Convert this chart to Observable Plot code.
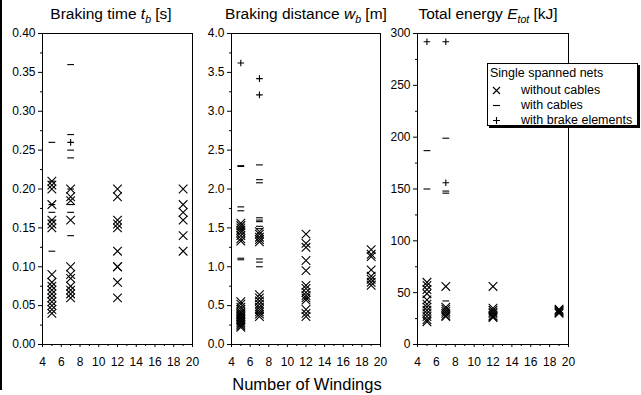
<!DOCTYPE html>
<html><head><meta charset="utf-8">
<script src="https://cdn.jsdelivr.net/npm/d3@7"></script>
<script src="https://cdn.jsdelivr.net/npm/@observablehq/plot@0.6"></script>
<style>
body{margin:0;background:#fff;}
#root{position:relative;width:641px;height:395px;overflow:hidden;font-family:"Liberation Sans",Arial,sans-serif;color:#000;background:#fff;}
.panel{position:absolute;top:0;}
.title{position:absolute;top:4px;text-align:center;font-size:15.5px;line-height:20px;white-space:nowrap;}
.title sub{font-size:10.5px;font-style:italic;vertical-align:-4px;line-height:0;}
.xlabel{position:absolute;top:374px;left:207px;width:200px;text-align:center;font-size:16.5px;line-height:20px;white-space:nowrap;}
.border{position:absolute;left:0;top:0;width:1.5px;height:390px;background:#000;}
.legend{position:absolute;left:487px;top:63px;width:149px;height:61px;border:1px solid #000;background:#fff;box-shadow:2px 2px 0 #000;font-size:12.5px;}
.legend .t{position:absolute;line-height:16px;white-space:nowrap;}
.legend svg{position:absolute;}
</style></head><body><div id="root"></div>
<script>
// ---------- data ----------
const windingTicks = [4, 6, 8, 10, 12, 14, 16, 18, 20];
const windingMinor = [5, 7, 9, 11, 13, 15, 17, 19];

// Braking time t_b [s]
const timeTicks = [0, 0.05, 0.10, 0.15, 0.20, 0.25, 0.30, 0.35, 0.40];
const timeMinor = [0.025, 0.075, 0.125, 0.175, 0.225, 0.275, 0.325, 0.375];
const timeWithoutCables = [
  [5,0.21],[5,0.205],[5,0.20],[5,0.18],[5,0.16],[5,0.155],[5,0.15],[5,0.09],[5,0.08],[5,0.075],[5,0.07],[5,0.065],[5,0.06],[5,0.055],[5,0.05],[5,0.045],[5,0.04],
  [7,0.20],[7,0.19],[7,0.185],[7,0.16],[7,0.10],[7,0.09],[7,0.085],[7,0.075],[7,0.07],[7,0.065],[7,0.06],
  [12,0.20],[12,0.19],[12,0.16],[12,0.155],[12,0.15],[12,0.12],[12,0.10],[12,0.10],[12,0.08],[12,0.06],
  [19,0.20],[19,0.18],[19,0.17],[19,0.16],[19,0.14],[19,0.12]
];
const timeWithCables = [
  [5,0.26],[5,0.21],[5,0.18],[5,0.17],[5,0.16],[5,0.12],
  [7,0.36],[7,0.27],[7,0.25],[7,0.24],[7,0.20],[7,0.18],[7,0.17],[7,0.14]
];
const timeWithBrakes = [[7,0.26]];

// Braking distance w_b [m]
const distTicks = [0, 0.5, 1.0, 1.5, 2.0, 2.5, 3.0, 3.5, 4.0];
const distMinor = [0.25, 0.75, 1.25, 1.75, 2.25, 2.75, 3.25, 3.75];
const distWithoutCables = [
  [5,1.56],[5,1.53],[5,1.50],[5,1.47],[5,1.44],[5,1.40],[5,1.36],[5,1.33],
  [5,0.55],[5,0.52],[5,0.48],[5,0.45],[5,0.42],[5,0.40],[5,0.38],[5,0.36],[5,0.34],[5,0.32],[5,0.30],[5,0.28],[5,0.26],[5,0.24],[5,0.22],
  [7,1.45],[7,1.42],[7,1.38],[7,1.35],[7,1.32],
  [7,0.64],[7,0.60],[7,0.56],[7,0.52],[7,0.48],[7,0.45],[7,0.42],[7,0.39],[7,0.36],
  [12,1.42],[12,1.30],[12,1.25],[12,1.08],[12,0.95],[12,0.76],[12,0.72],[12,0.67],[12,0.63],[12,0.60],[12,0.57],[12,0.45],[12,0.40],[12,0.36],
  [19,1.22],[19,1.16],[19,1.13],[19,0.96],[19,0.88],[19,0.84],[19,0.80],[19,0.76]
];
const distWithCables = [
  [5,2.30],[5,2.29],[5,1.77],[5,1.72],[5,1.11],[5,1.09],
  [7,2.31],[7,2.12],[7,2.08],[7,1.63],[7,1.60],[7,1.58],[7,1.52],[7,1.49],[7,1.10],[7,1.06],[7,1.00]
];
const distWithBrakes = [[5,3.62],[7,3.42],[7,3.21]];

// Total energy E_tot [kJ]
const energyTicks = [0, 50, 100, 150, 200, 250, 300];
const energyMinor = [25, 75, 125, 175, 225, 275];
const energyWithoutCables = [
  [5,60],[5,57],[5,53],[5,49],[5,43],[5,39],[5,36],[5,33],[5,30],[5,27],[5,24],[5,22],
  [7,56],[7,36],[7,34],[7,32],[7,30],[7,28],[7,27],
  [12,56],[12,35],[12,33],[12,31],[12,30],[12,28],[12,27],[12,26],
  [19,34],[19,33],[19,32],[19,31],[19,30]
];
const energyWithCables = [[5,187],[5,150],[7,199],[7,148],[7,146],[7,42]];
const energyWithBrakes = [[5,292],[7,292],[7,156]];

// ---------- symbols ----------
const symTimes = {draw(ctx, size){const r=Math.sqrt(size/Math.PI);ctx.moveTo(-r,-r);ctx.lineTo(r,r);ctx.moveTo(-r,r);ctx.lineTo(r,-r);}};
const symMinus = {draw(ctx, size){const r=Math.sqrt(size/Math.PI);ctx.moveTo(-r,0);ctx.lineTo(r,0);}};
const symPlus  = {draw(ctx, size){const r=Math.sqrt(size/Math.PI);ctx.moveTo(-r,0);ctx.lineTo(r,0);ctx.moveTo(0,-r);ctx.lineTo(0,r);}};

const root = document.getElementById("root");

function panel(o) {
  const series = [
    {data: o.without, sym: symTimes, r: 4.3},
    {data: o.cables, sym: symMinus, r: 3.4},
    {data: o.brakes, sym: symPlus, r: 3.3}
  ];
  const svg = Plot.plot({
    width: o.width, height: 372,
    marginLeft: o.mL, marginRight: o.mR, marginTop: 33, marginBottom: 28,
    x: {domain: [4, 20], label: null},
    y: {domain: o.domain, label: null},
    style: {fontFamily: '"Liberation Sans", Arial, sans-serif', fontSize: "12px", color: "#000", background: "transparent", overflow: "visible"},
    marks: [
      Plot.axisX(windingTicks, {tickSize: 3, tickPadding: 10, tickFormat: d => String(d), label: null, stroke: "#000"}),
      Plot.axisX(windingMinor, {tickSize: 2, tickFormat: () => "", label: null, stroke: "#000"}),
      Plot.axisY(o.ticks, {tickSize: 4, tickPadding: 3, tickFormat: o.fmt, label: null, stroke: "#000"}),
      Plot.axisY(o.minor, {tickSize: 2, tickFormat: () => "", label: null, stroke: "#000"}),
      ...series.map(s => Plot.dot(s.data, {x: d => d[0], y: d => d[1], symbol: s.sym, r: s.r, fill: "none", stroke: "#000", strokeWidth: 1.1})),
      Plot.frame({stroke: "#000", strokeWidth: 1})
    ]
  });
  svg.classList.add("panel");
  svg.style.left = o.left + "px";
  root.appendChild(svg);
}

panel({left: 0, width: 200, mL: 42, mR: 8, domain: [0, 0.4], ticks: timeTicks, minor: timeMinor, fmt: d3.format(".2f"),
  without: timeWithoutCables, cables: timeWithCables, brakes: timeWithBrakes});
panel({left: 200, width: 190, mL: 31, mR: 10, domain: [0, 4], ticks: distTicks, minor: distMinor, fmt: d3.format(".1f"),
  without: distWithoutCables, cables: distWithCables, brakes: distWithBrakes});
panel({left: 386, width: 200, mL: 31, mR: 18, domain: [0, 300], ticks: energyTicks, minor: energyMinor, fmt: d3.format("d"),
  without: energyWithoutCables, cables: energyWithCables, brakes: energyWithBrakes});

// ---------- text ----------
function addTitle(html, center) {
  const d = document.createElement("div");
  d.className = "title";
  d.style.left = (center - 100) + "px";
  d.style.width = "200px";
  d.innerHTML = html;
  root.appendChild(d);
}
addTitle('Braking time <i>t</i><sub>b</sub> [s]', 111);
addTitle('Braking distance <i>w</i><sub>b</sub> [m]', 306);
addTitle('Total energy <i>E</i><sub>tot</sub> [kJ]', 488);

const xl = document.createElement("div");
xl.className = "xlabel";
xl.textContent = "Number of Windings";
root.appendChild(xl);

const bd = document.createElement("div");
bd.className = "border";
root.appendChild(bd);

// ---------- legend ----------
const legendTitle = "Single spanned nets";
const legendLabels = ["without cables", "with cables", "with brake elements"];
const legendPaths = ["M1,1L8,8M1,8L8,1", "M1,4.5L8,4.5", "M1,4.5L8,4.5M4.5,1L4.5,8"];
const lg = document.createElement("div");
lg.className = "legend";
let html = `<div class="t" style="left:2px;top:1px">${legendTitle}</div>`;
legendLabels.forEach((lab, i) => {
  const cy = 26 + i * 15;
  html += `<svg width="9" height="9" style="left:4px;top:${cy - 4.5}px"><path d="${legendPaths[i]}" stroke="#000" stroke-width="1.1" fill="none"/></svg>`;
  html += `<div class="t" style="left:33px;top:${cy - 8}px">${lab}</div>`;
});
lg.innerHTML = html;
root.appendChild(lg);
</script>
</body></html>
